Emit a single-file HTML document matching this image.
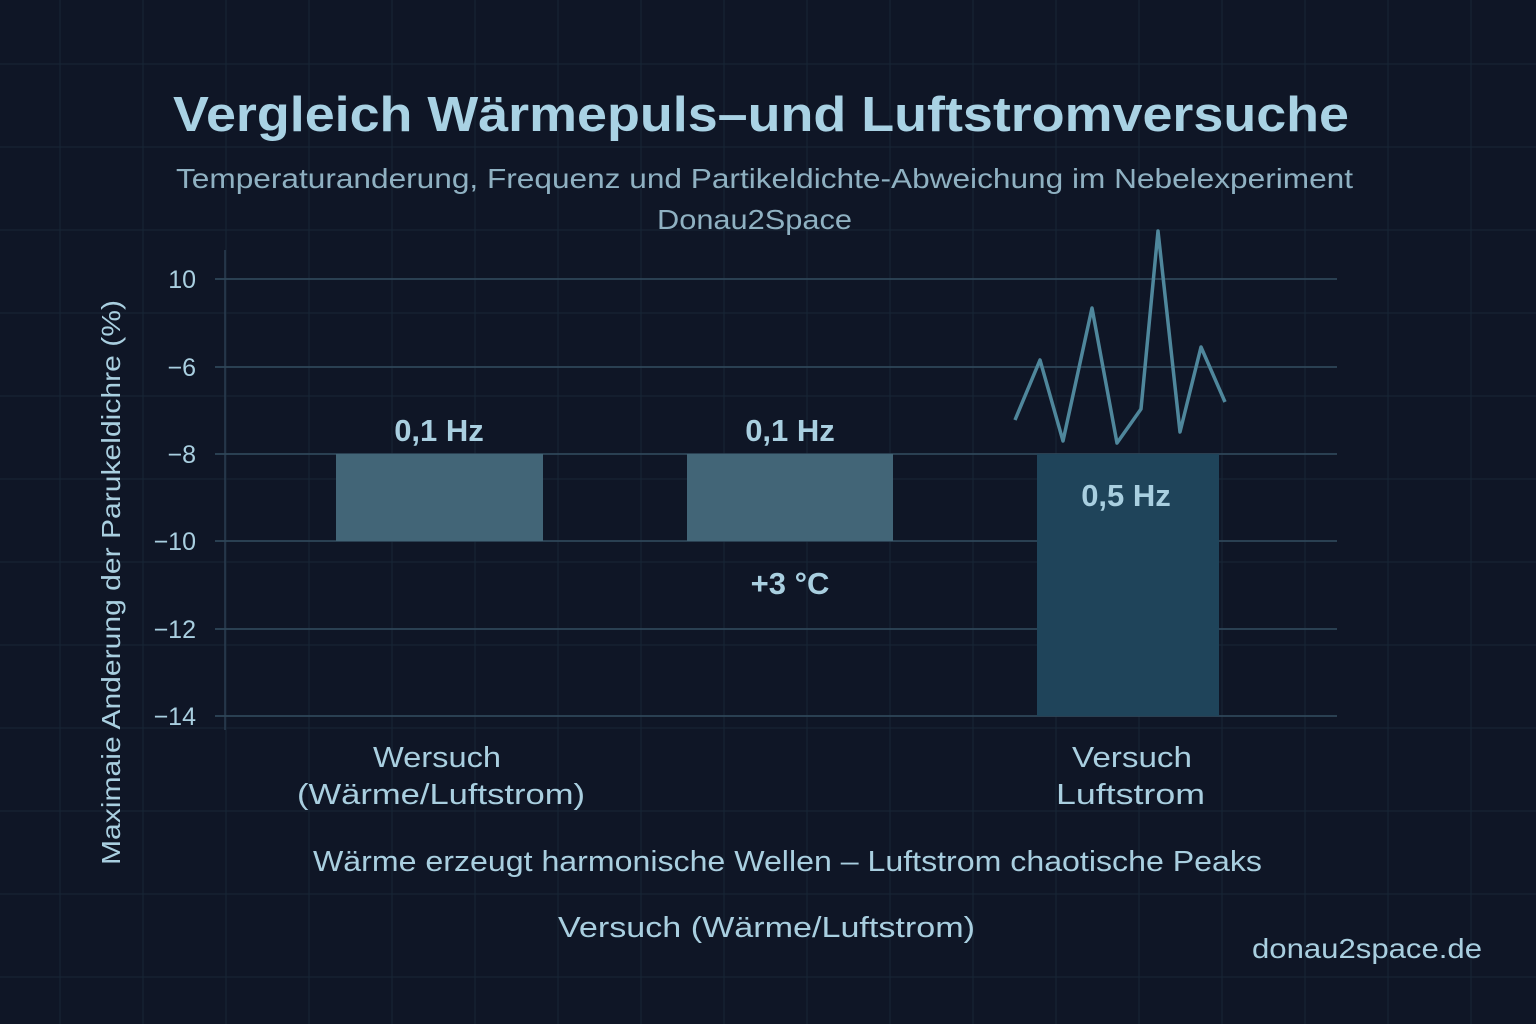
<!DOCTYPE html>
<html><head><meta charset="utf-8"><style>
html,body{margin:0;padding:0;background:#0f1626;}
svg{display:block}
text{font-family:"Liberation Sans","DejaVu Sans",sans-serif;}
</style></head><body>
<svg width="1536" height="1024" viewBox="0 0 1536 1024" xmlns="http://www.w3.org/2000/svg">
<rect width="1536" height="1024" fill="#0f1626"/>
<g stroke="#172434" stroke-width="1.2">
<line x1="60" y1="0" x2="60" y2="1024"/><line x1="143" y1="0" x2="143" y2="1024"/><line x1="226" y1="0" x2="226" y2="1024"/><line x1="309" y1="0" x2="309" y2="1024"/><line x1="392" y1="0" x2="392" y2="1024"/><line x1="475" y1="0" x2="475" y2="1024"/><line x1="558" y1="0" x2="558" y2="1024"/><line x1="641" y1="0" x2="641" y2="1024"/><line x1="724" y1="0" x2="724" y2="1024"/><line x1="807" y1="0" x2="807" y2="1024"/><line x1="890" y1="0" x2="890" y2="1024"/><line x1="973" y1="0" x2="973" y2="1024"/><line x1="1056" y1="0" x2="1056" y2="1024"/><line x1="1139" y1="0" x2="1139" y2="1024"/><line x1="1222" y1="0" x2="1222" y2="1024"/><line x1="1305" y1="0" x2="1305" y2="1024"/><line x1="1388" y1="0" x2="1388" y2="1024"/><line x1="1471" y1="0" x2="1471" y2="1024"/>
<line x1="0" y1="64" x2="1536" y2="64"/><line x1="0" y1="147" x2="1536" y2="147"/><line x1="0" y1="230" x2="1536" y2="230"/><line x1="0" y1="313" x2="1536" y2="313"/><line x1="0" y1="396" x2="1536" y2="396"/><line x1="0" y1="479" x2="1536" y2="479"/><line x1="0" y1="562" x2="1536" y2="562"/><line x1="0" y1="645" x2="1536" y2="645"/><line x1="0" y1="728" x2="1536" y2="728"/><line x1="0" y1="811" x2="1536" y2="811"/><line x1="0" y1="894" x2="1536" y2="894"/><line x1="0" y1="977" x2="1536" y2="977"/>
</g>
<line x1="225" y1="250" x2="225" y2="730" stroke="#2a3d50" stroke-width="1.5"/>
<g stroke="#2f4659" stroke-width="1.8">
<line x1="215" y1="279" x2="1337" y2="279"/><line x1="215" y1="367" x2="1337" y2="367"/><line x1="215" y1="454" x2="1337" y2="454"/><line x1="215" y1="541" x2="1337" y2="541"/><line x1="215" y1="629" x2="1337" y2="629"/><line x1="215" y1="716" x2="1337" y2="716"/>
</g>
<rect x="336" y="454" width="207" height="87" fill="#426577"/>
<rect x="687" y="454" width="206" height="87" fill="#426577"/>
<rect x="1037" y="454" width="182" height="262" fill="#1f445a"/>
<polyline points="1015,420 1040,360 1063,441 1092,308 1117,443 1141,409 1158,231 1180,432 1201,347 1225,402" fill="none" stroke="#4f879c" stroke-width="3.5" stroke-linejoin="round"/>
<g fill="#a9cfe0" font-size="25" text-anchor="end">
<text x="196" y="288">10</text><text x="196" y="376">−6</text><text x="196" y="463">−8</text><text x="196" y="550">−10</text><text x="196" y="638">−12</text><text x="196" y="725">−14</text>
</g>
<text x="173" y="131" fill="#a9d2e4" font-size="49" font-weight="bold" textLength="1176" lengthAdjust="spacingAndGlyphs">Vergleich Wärmepuls–und Luftstromversuche</text>
<text x="176" y="188" fill="#8fb1c2" font-size="28" textLength="1177" lengthAdjust="spacingAndGlyphs">Temperaturanderung, Frequenz und Partikeldichte-Abweichung im Nebelexperiment</text>
<text x="657" y="229" fill="#8fb1c2" font-size="28" textLength="195" lengthAdjust="spacingAndGlyphs">Donau2Space</text>
<g fill="#a9cfe0" font-size="31" font-weight="bold" text-anchor="middle">
<text x="439" y="441">0,1 Hz</text><text x="790" y="441">0,1 Hz</text><text x="1126" y="506">0,5 Hz</text><text x="790" y="594">+3 °C</text>
</g>
<g fill="#a9cfe0" font-size="29">
<text x="373" y="767" textLength="128" lengthAdjust="spacingAndGlyphs">Wersuch</text>
<text x="297" y="804" textLength="288" lengthAdjust="spacingAndGlyphs">(Wärme/Luftstrom)</text>
<text x="1072" y="767" textLength="120" lengthAdjust="spacingAndGlyphs">Versuch</text>
<text x="1056" y="804" textLength="149" lengthAdjust="spacingAndGlyphs">Luftstrom</text>
<text x="313" y="871" textLength="949" lengthAdjust="spacingAndGlyphs">Wärme erzeugt harmonische Wellen – Luftstrom chaotische Peaks</text>
<text x="558" y="937" textLength="417" lengthAdjust="spacingAndGlyphs">Versuch (Wärme/Luftstrom)</text>
</g>
<text x="1252" y="958" fill="#a9cfe0" font-size="28" textLength="230" lengthAdjust="spacingAndGlyphs">donau2space.de</text>
<text transform="translate(120,865) rotate(-90)" fill="#a9cfe0" font-size="26" textLength="565" lengthAdjust="spacingAndGlyphs">Maximaie Anderung der Parukeldichre (%)</text>
</svg>
</body></html>
